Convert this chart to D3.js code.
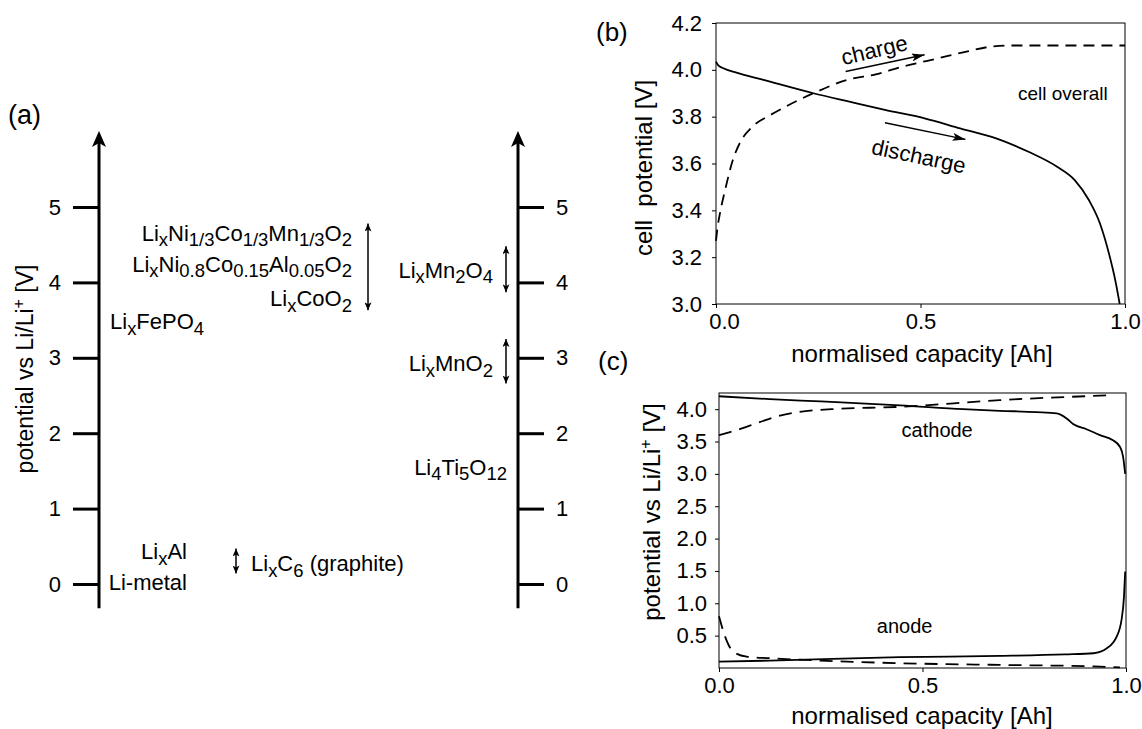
<!DOCTYPE html>
<html>
<head>
<meta charset="utf-8">
<script src="https://cdn.jsdelivr.net/npm/d3@7"></script>
<style>
  body { margin: 0; background: #fff; }
  svg text { font-family: "Liberation Sans", Arial, Helvetica, sans-serif; fill: #000; white-space: pre; }
</style>
</head>
<body>
<div id="wrapper"></div>
<script>
// ---- data --------------------------------------------------------------
// (a) electrode materials vs Li/Li+ ; formula parts alternate normal / subscript
const potentialTicks = [0, 1, 2, 3, 4, 5]
const highCathodes = [
  { f: ["Li", "x", "Ni", "1/3", "Co", "1/3", "Mn", "1/3", "O", "2"], v: 4.63 },
  { f: ["Li", "x", "Ni", "0.8", "Co", "0.15", "Al", "0.05", "O", "2"], v: 4.22 },
  { f: ["Li", "x", "CoO", "2"], v: 3.76 }
]
const highCathodeRange = [3.63, 4.78]
const ironPhosphate = { f: ["Li", "x", "FePO", "4"], v: 3.46 }
const lowAnodes = [
  { f: ["Li", "x", "Al"], v: 0.41 },
  { f: ["Li-metal"], v: 0.0 }
]
const graphite = { f: ["Li", "x", "C", "6", " (graphite)"], v: 0.25, range: [0.14, 0.47] }
const rightMaterials = [
  { f: ["Li", "x", "Mn", "2", "O", "4"], v: 4.14, range: [3.87, 4.48] },
  { f: ["Li", "x", "MnO", "2"], v: 2.9, range: [2.66, 3.25] },
  { f: ["Li", "4", "Ti", "5", "O", "12"], v: 1.53 }
]

// (b) full cell potential vs normalised capacity
const cellTicks = [3.0, 3.2, 3.4, 3.6, 3.8, 4.0, 4.2]
const capacityTicks = [0, 0.5, 1.0]
const cellDischargeQ = [0, 0.005, 0.018, 0.05, 0.116, 0.238, 0.326, 0.413, 0.51, 0.597, 0.685, 0.764, 0.834, 0.877, 0.912, 0.939, 0.961, 0.978, 0.987]
const cellDischargeV = [4.035, 4.02, 4.007, 3.988, 3.957, 3.9, 3.864, 3.829, 3.793, 3.75, 3.707, 3.65, 3.586, 3.529, 3.443, 3.343, 3.214, 3.086, 3.0]
const cellChargeQ = [0, 0.004, 0.01, 0.024, 0.041, 0.059, 0.089, 0.133, 0.186, 0.238, 0.32, 0.393, 0.457, 0.545, 0.615, 0.676, 0.72, 0.8, 0.9, 1.0]
const cellChargeV = [3.27, 3.33, 3.39, 3.5, 3.614, 3.69, 3.757, 3.807, 3.857, 3.9, 3.957, 3.982, 4.014, 4.05, 4.079, 4.1, 4.104, 4.104, 4.104, 4.104]

// (c) electrode potentials vs Li/Li+
const electrodeTicks = [0.5, 1.0, 1.5, 2.0, 2.5, 3.0, 3.5, 4.0]
const cathodeDischargeQ = [0, 0.125, 0.25, 0.445, 0.6, 0.69, 0.78, 0.83, 0.854, 0.87, 0.903, 0.936, 0.968, 0.985, 0.993, 0.998]
const cathodeDischargeV = [4.2, 4.155, 4.12, 4.06, 4.0, 3.975, 3.955, 3.934, 3.857, 3.77, 3.69, 3.6, 3.52, 3.42, 3.26, 3.0]
const cathodeChargeQ = [0, 0.043, 0.1, 0.15, 0.189, 0.277, 0.445, 0.69, 0.968]
const cathodeChargeV = [3.6, 3.676, 3.8, 3.9, 3.95, 4.0, 4.036, 4.14, 4.216]
const anodeDischargeQ = [0, 0.125, 0.445, 0.69, 0.85, 0.92, 0.953, 0.977, 0.989, 0.995, 0.998]
const anodeDischargeV = [0.1, 0.114, 0.167, 0.187, 0.21, 0.228, 0.305, 0.485, 0.743, 1.1, 1.49]
const anodeChargeQ = [0, 0.015, 0.035, 0.068, 0.125, 0.25, 0.445, 0.69, 0.936, 0.985]
const anodeChargeV = [0.8, 0.485, 0.253, 0.176, 0.151, 0.115, 0.074, 0.048, 0.022, 0.01]

// ---- canvas ------------------------------------------------------------
const svg = d3.select("#wrapper")
  .append("svg")
    .attr("width", 1142)
    .attr("height", 729)

const defs = svg.append("defs")
function addMarker(id, w, h, notch) {
  defs.append("marker")
      .attr("id", id)
      .attr("viewBox", `0 0 ${w} ${h}`)
      .attr("markerUnits", "userSpaceOnUse")
      .attr("markerWidth", w)
      .attr("markerHeight", h)
      .attr("refX", w)
      .attr("refY", h / 2)
      .attr("orient", "auto-start-reverse")
    .append("path")
      .attr("d", `M0,0 L${w},${h / 2} L0,${h} L${notch},${h / 2} Z`)
      .attr("fill", "#000")
}
addMarker("small-head", 8, 7, 2)
addMarker("note-head", 13, 8, 3)
defs.append("marker")
    .attr("id", "axis-head")
    .attr("viewBox", "0 0 16 14")
    .attr("markerUnits", "userSpaceOnUse")
    .attr("markerWidth", 16)
    .attr("markerHeight", 14)
    .attr("refX", 4)
    .attr("refY", 7)
    .attr("orient", "auto")
  .append("path")
    .attr("d", "M0,0 L16,7 L0,14 L4,7 Z")
    .attr("fill", "#000")

// formula with subscripts
function formula(sel, parts, size) {
  const sub = size * 0.84
  const shift = size * 0.25
  parts.forEach((p, i) => {
    const isSub = i % 2 === 1
    sel.append("tspan")
      .attr("font-size", isSub ? sub : size)
      .attr("dy", i === 0 ? 0 : (isSub ? shift : -shift))
      .text(p)
  })
}

// ---- panel (a) ---------------------------------------------------------
const yA = d3.scaleLinear()
  .domain([0, 5])
  .range([584, 207])

const leftX = 99
const rightX = 518
const labelSize = 22

function potentialAxis(x, generator) {
  const g = svg.append("g")
    .attr("transform", `translate(${x},0)`)
    .call(generator)
  g.select(".domain").remove()
  g.selectAll(".tick line").attr("stroke-width", 3)
  g.selectAll(".tick text")
    .attr("font-size", 22)
    .attr("font-family", "Liberation Sans, Arial, sans-serif")
  g.append("line")
    .attr("y1", yA(-0.32))
    .attr("y2", yA(5.85))
    .attr("stroke", "#000")
    .attr("stroke-width", 3)
    .attr("marker-end", "url(#axis-head)")
}

potentialAxis(leftX, d3.axisLeft(yA)
  .tickValues(potentialTicks)
  .tickSize(26)
  .tickSizeOuter(0)
  .tickPadding(12)
  .tickFormat(d3.format("d")))

potentialAxis(rightX, d3.axisRight(yA)
  .tickValues(potentialTicks)
  .tickSize(26)
  .tickSizeOuter(0)
  .tickPadding(12)
  .tickFormat(d3.format("d")))

function materialLabel(m, x, anchor) {
  const t = svg.append("text")
    .attr("x", x)
    .attr("y", yA(m.v) + 6)
    .attr("text-anchor", anchor)
  formula(t, m.f, labelSize)
}

function doubleArrow(x, range) {
  svg.append("line")
    .attr("x1", x).attr("x2", x)
    .attr("y1", yA(range[0])).attr("y2", yA(range[1]))
    .attr("stroke", "#000")
    .attr("stroke-width", 1.5)
    .attr("marker-start", "url(#small-head)")
    .attr("marker-end", "url(#small-head)")
}

highCathodes.forEach(m => materialLabel(m, 352, "end"))
doubleArrow(368, highCathodeRange)
materialLabel(ironPhosphate, 110, "start")
lowAnodes.forEach(m => materialLabel(m, 187, "end"))
doubleArrow(236, graphite.range)
materialLabel(graphite, 251, "start")
rightMaterials.forEach(m => {
  if (m.range) {
    materialLabel(m, 493, "end")
    doubleArrow(506, m.range)
  } else {
    materialLabel(m, 507, "end")
  }
})

const yLabelA = svg.append("text")
  .attr("transform", "translate(33,369) rotate(-90)")
  .attr("text-anchor", "middle")
  .attr("font-size", 23)
yLabelA.append("tspan").text("potential vs Li/Li")
yLabelA.append("tspan").attr("font-size", 16).attr("dy", -9).text("+")
yLabelA.append("tspan").attr("dy", 9).text(" [V]")

svg.append("text")
  .attr("x", 8).attr("y", 124)
  .attr("font-size", 27)
  .text("(a)")

// ---- shared helpers for (b) and (c) ------------------------------------
function framedAxes(x, y, yTicks, yPad) {
  const [x0, x1] = x.range()
  const [yb, yt] = y.range()
  svg.append("rect")
    .attr("x", x0).attr("y", yt)
    .attr("width", x1 - x0).attr("height", yb - yt)
    .attr("fill", "none")
    .attr("stroke", "#000")
    .attr("stroke-width", 1)

  const xAxis = svg.append("g")
    .attr("transform", `translate(0,${yb})`)
    .call(d3.axisBottom(x)
      .tickValues(capacityTicks)
      .tickSize(4)
      .tickSizeOuter(0)
      .tickPadding(5)
      .tickFormat(d3.format(".1f")))
  const yAxis = svg.append("g")
    .attr("transform", `translate(${x0},0)`)
    .call(d3.axisLeft(y)
      .tickValues(yTicks)
      .tickSize(4)
      .tickSizeOuter(0)
      .tickPadding(yPad)
      .tickFormat(d3.format(".1f")))
  ;[xAxis, yAxis].forEach(g => {
    g.select(".domain").remove()
    g.selectAll(".tick text")
      .attr("font-size", 22)
      .attr("font-family", "Liberation Sans, Arial, sans-serif")
  })
  return xAxis
}

function curve(x, y, qs, vs, dashed, dash) {
  const line = d3.line()
    .x(d => x(d[0]))
    .y(d => y(d[1]))
    .curve(d3.curveMonotoneX)
  svg.append("path")
    .datum(d3.zip(qs, vs))
    .attr("d", line)
    .attr("fill", "none")
    .attr("stroke", "#000")
    .attr("stroke-width", 1.8)
    .attr("stroke-dasharray", dashed ? dash : null)
}

function note(x, y, q, v, text, size, angle) {
  svg.append("text")
    .attr("transform", `translate(${x(q)},${y(v)}) rotate(${angle})`)
    .attr("text-anchor", "middle")
    .attr("dy", "0.35em")
    .attr("font-size", size)
    .text(text)
}

function noteArrow(x, y, from, to) {
  svg.append("line")
    .attr("x1", x(from[0])).attr("y1", y(from[1]))
    .attr("x2", x(to[0])).attr("y2", y(to[1]))
    .attr("stroke", "#000")
    .attr("stroke-width", 1.5)
    .attr("marker-end", "url(#note-head)")
}

// ---- panel (b) ---------------------------------------------------------
const xB = d3.scaleLinear().domain([0, 1]).range([716, 1125])
const yB = d3.scaleLinear().domain([3.0, 4.2]).range([304, 23])

const xAxisB = framedAxes(xB, yB, cellTicks, 10)
xAxisB.selectAll(".tick text").filter(d => d === 0).attr("dx", 8)

curve(xB, yB, cellChargeQ, cellChargeV, true, "11,7")
curve(xB, yB, cellDischargeQ, cellDischargeV, false)

noteArrow(xB, yB, [0.317, 3.993], [0.51, 4.064])
note(xB, yB, 0.387, 4.085, "charge", 22, -13.5)
noteArrow(xB, yB, [0.413, 3.774], [0.61, 3.703])
note(xB, yB, 0.496, 3.632, "discharge", 22, 12)
note(xB, yB, 0.848, 3.9, "cell overall", 19, 0)

svg.append("text")
  .attr("transform", "translate(652,168) rotate(-90)")
  .attr("text-anchor", "middle")
  .attr("font-size", 24)
  .text("cell  potential [V]")
svg.append("text")
  .attr("x", 922).attr("y", 362)
  .attr("text-anchor", "middle")
  .attr("font-size", 24)
  .text("normalised capacity [Ah]")
svg.append("text")
  .attr("x", 596).attr("y", 41)
  .attr("font-size", 26)
  .text("(b)")

// ---- panel (c) ---------------------------------------------------------
const xC = d3.scaleLinear().domain([0, 1]).range([719, 1126])
const yC = d3.scaleLinear().domain([0, 4.25]).range([668, 393])

framedAxes(xC, yC, electrodeTicks, 8)

curve(xC, yC, cathodeChargeQ, cathodeChargeV, true, "13,8")
curve(xC, yC, cathodeDischargeQ, cathodeDischargeV, false)
curve(xC, yC, anodeChargeQ, anodeChargeV, true, "13,8")
curve(xC, yC, anodeDischargeQ, anodeDischargeV, false)

note(xC, yC, 0.536, 3.68, "cathode", 20, 0)
note(xC, yC, 0.456, 0.65, "anode", 20, 0)

const yLabelC = svg.append("text")
  .attr("transform", "translate(660,512) rotate(-90)")
  .attr("text-anchor", "middle")
  .attr("font-size", 24)
yLabelC.append("tspan").text("potential vs Li/Li")
yLabelC.append("tspan").attr("font-size", 16).attr("dy", -9).text("+")
yLabelC.append("tspan").attr("dy", 9).text(" [V]")

svg.append("text")
  .attr("x", 922).attr("y", 724)
  .attr("text-anchor", "middle")
  .attr("font-size", 24)
  .text("normalised capacity [Ah]")
svg.append("text")
  .attr("x", 598).attr("y", 370)
  .attr("font-size", 26)
  .text("(c)")
</script>
</body>
</html>
